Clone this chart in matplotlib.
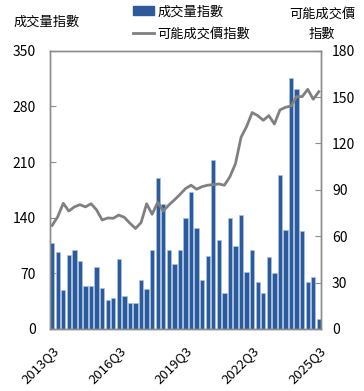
import numpy as np
import matplotlib
matplotlib.use("Agg")
import matplotlib.pyplot as plt
from matplotlib.patches import Patch
from matplotlib.lines import Line2D

plt.rcParams['font.family'] = ['Noto Sans CJK TC', 'DejaVu Sans']

# quarters 2013Q3 .. 2025Q3
quarters = []
for y in range(2013, 2026):
    for q in range(1, 5):
        if (y == 2013 and q < 3) or (y == 2025 and q > 3):
            continue
        quarters.append(f"{y}Q{q}")

# 成交量指數 (left axis)
volume = [108, 97, 49, 93, 99, 86, 54, 54, 78, 52, 36, 39, 88, 42, 33, 33,
          62, 50, 99, 190, 157, 99, 82, 99, 139, 172, 127, 61, 92, 213, 112, 45,
          139, 105, 143, 72, 99, 59, 45, 90, 71, 194, 125, 316, 302, 123, 59, 65, 13]

# 可能成交價指數 (right axis)
price = [67, 72.6, 81.3, 76.3, 79, 80.4, 79, 81, 77, 70.5, 71.8, 71.6, 73.7, 72.2, 68.4, 65,
         68.8, 81, 74.2, 82, 76.3, 80.2, 83.5, 87, 90.8, 93, 90.4, 92.1, 93, 93.4, 93.8, 93,
         98.5, 107, 124, 131, 140, 138, 135, 138, 132.6, 141.7, 143.4, 144.2, 150.3, 150.3, 155, 148.6, 153.5]

tick_labels = ["2013Q3", "2016Q3", "2019Q3", "2022Q3", "2025Q3"]

x = np.arange(len(quarters))
tick_pos = [quarters.index(t) for t in tick_labels]

fig = plt.figure(figsize=(3.64, 3.91), dpi=100)
ax = fig.add_axes([50/364, 1-329/391, 271/364, (329-50.7)/391])
ax2 = ax.twinx()

bar_color = '#2D5A9B'
line_color = '#808080'
spine_color = '#8C8C8C'
w = 0.78

ax.bar(x, volume, width=w, color=bar_color, edgecolor='#A9C3E6', linewidth=0.5, zorder=2)
ax2.plot(x, price, color=line_color, linewidth=2.0, zorder=3)

ax.set_xlim(-w/2, len(x) - 1 + w/2)
ax.set_ylim(0, 350)
ax.set_yticks([0, 70, 140, 210, 280, 350])
ax2.set_ylim(0, 180)
ax2.set_yticks([0, 30, 60, 90, 120, 150, 180])

ax.set_xticks(tick_pos)
ax.set_xticklabels(tick_labels, rotation=45, ha='right', rotation_mode='anchor', fontsize=9.5)

for a in (ax, ax2):
    for s in a.spines.values():
        s.set_color(spine_color)
        s.set_linewidth(1.0)
ax.tick_params(axis='y', direction='in', length=4, color=spine_color, labelsize=10, pad=10)
ax2.tick_params(axis='y', direction='in', length=4, color=spine_color, labelsize=10, pad=8)
ax.tick_params(axis='x', length=0, pad=11)

fig.text(47/364, 1-22/391, "成交量指數", ha='center', va='center', fontsize=9.5)
fig.text(322/364, 1-24/391, "可能成交價\n指數", ha='center', va='center',
         multialignment='center', fontsize=9.5, linespacing=1.75)

handles = [Patch(facecolor=bar_color, edgecolor=bar_color),
           Line2D([0], [0], color=line_color, linewidth=2.0)]
fig.legend(handles, ["成交量指數", "可能成交價指數"], loc='upper left',
           bbox_to_anchor=(128/364, 1.0), frameon=False, fontsize=9.5,
           handlelength=1.6, handletextpad=0.2, labelspacing=0.7, borderaxespad=0.0)

fig.savefig("out.png", dpi=100)
